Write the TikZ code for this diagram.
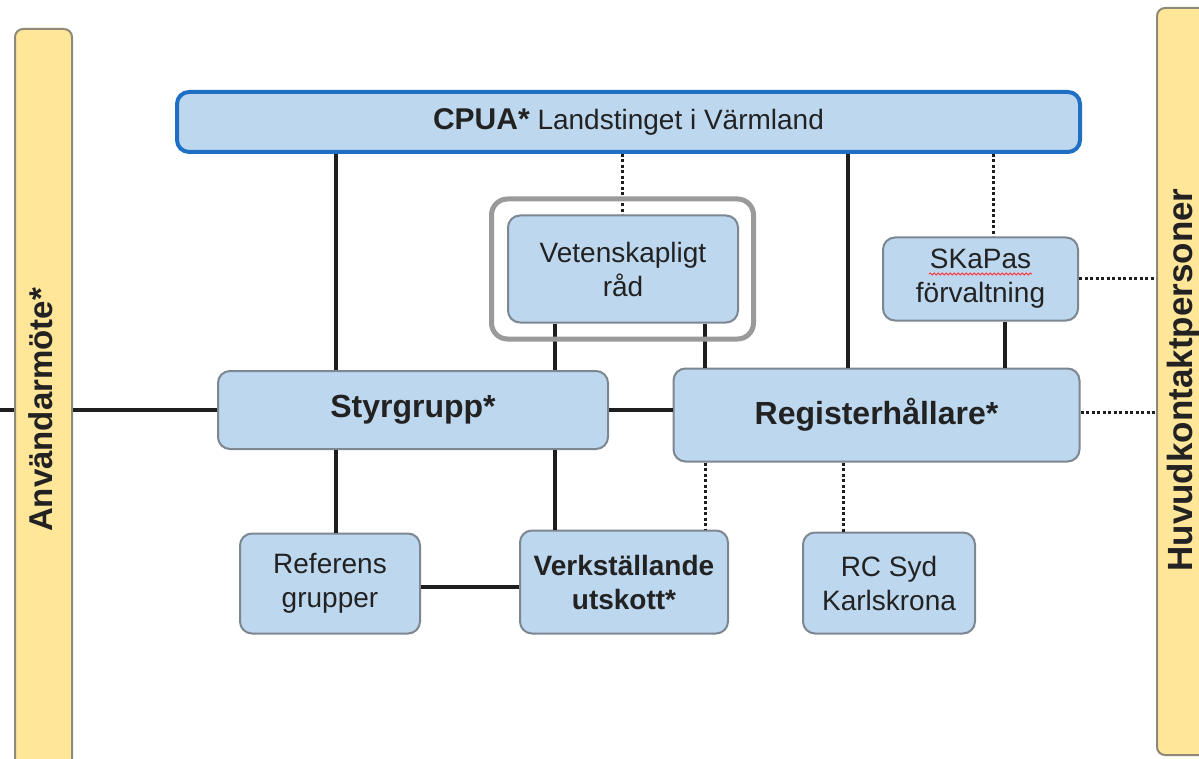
\documentclass[tikz,border=0pt]{standalone}
\usepackage{fontspec}
\setmainfont{Liberation Sans}
\usetikzlibrary{decorations.pathmorphing}
\definecolor{boxfill}{HTML}{BDD7EE}
\definecolor{boxdraw}{HTML}{7D8791}
\definecolor{barfill}{HTML}{FFE699}
\definecolor{bardraw}{HTML}{8E8A78}
\definecolor{cpuadraw}{HTML}{1F6FC5}
\definecolor{txt}{HTML}{222222}
\definecolor{hlgray}{HTML}{9A9A9A}
\definecolor{linec}{HTML}{1E1E1E}
\begin{document}
\begin{tikzpicture}[x=1pt,y=-1pt,
  box/.style={draw=boxdraw, line width=2pt, fill=boxfill, rounded corners=12pt,
    align=center, text=txt, inner sep=0pt, font=\fontsize{28}{34}\selectfont},
  bar/.style={draw=bardraw, line width=2pt, fill=barfill, rounded corners=8pt, inner sep=0pt},
  bartext/.style={rotate=90, text=txt, font=\bfseries\fontsize{33}{36}\selectfont},
  conn/.style={line width=3.5pt, draw=linec},
  dotc/.style={line width=3pt, draw=linec, dash pattern=on 3pt off 2.5pt},
]
\clip (0,0) rectangle (1199,759);
\fill[white] (0,0) rectangle (1199,759);

% coordinates for connector positions
\coordinate (xa) at (336,0);
\coordinate (xb) at (622,0);
\coordinate (xc) at (848,0);
\coordinate (xd) at (993,0);
\coordinate (xe) at (555,0);
\coordinate (xf) at (705,0);
\coordinate (xg) at (1005,0);
\coordinate (xh) at (843,0);
\coordinate (lfree) at (0,410);

% side bars
\node[bar, minimum width=57pt, minimum height=770pt] (abar) at (43.5,414) {};
\node[bartext] (atext) at (41,410) {Användarmöte*};
\node[bar, minimum width=56pt, minimum height=747pt] (hbar) at (1185,381.5) {};
\node[bartext, font=\bfseries\fontsize{35}{38}\selectfont] (htext) at (1183,380) {Huvudkontaktpersoner};

% boxes
\node[box, draw=cpuadraw, line width=4pt, minimum width=903pt, minimum height=60pt] (cpua) at (628.5,122)
  {{\fontsize{30}{34}\selectfont\bfseries CPUA*} Landstinget i Värmland};
\node[box, minimum width=230pt, minimum height=107pt] (vet) at (623,269) {Vetenskapligt\\råd};
\node[box, minimum width=195pt, minimum height=83pt] (ska) at (980.5,279) {SKaPas\\förvaltning};
\node[box, font=\bfseries\fontsize{32}{36}\selectfont, minimum width=390pt, minimum height=78pt] (styr) at (413,410) {Styrgrupp*};
\node[box, font=\bfseries\fontsize{32}{36}\selectfont, minimum width=406pt, minimum height=93pt] (reg) at (876.5,415) {Registerhållare*};
\node[box, minimum width=180pt, minimum height=100pt] (ref) at (330,583.5) {Referens\\grupper};
\node[box, font=\bfseries\fontsize{28}{34}\selectfont, minimum width=208pt, minimum height=103pt] (verk) at (624,582) {Verkställande\\utskott*};
\node[box, minimum width=172pt, minimum height=101pt] (rc) at (889,583) {RC Syd\\Karlskrona};

% spell-check squiggle under SKaPas
\coordinate (sq1) at (929,274);
\coordinate (sq2) at (1032,274);
\draw[red!80!white, line width=1pt, decorate, decoration={snake, amplitude=0.9pt, segment length=4pt}] (sq1) -- (sq2);

% connectors from CPUA
\draw[conn] (cpua.south -| xa) -- (styr.north -| xa);
\draw[dotc] (cpua.south -| xb) -- (vet.north -| xb);
\draw[conn] (cpua.south -| xc) -- (reg.north -| xc);
\draw[dotc] (cpua.south -| xd) -- (ska.north -| xd);

% from Vetenskapligt rad
\draw[conn] (vet.south -| xe) -- (styr.north -| xe);
\draw[conn] (vet.south -| xf) -- (reg.north -| xf);

% SKaPas
\draw[conn] (ska.south -| xg) -- (reg.north -| xg);
\draw[dotc] (ska.east) -- (hbar.west |- ska.east);

% horizontal links
\draw[conn] (lfree) -- (abar.west |- lfree);
\draw[conn] (abar.east |- styr.west) -- (styr.west);
\draw[conn] (styr.east) -- (reg.west |- styr.east);
\draw[dotc] (reg.east |- 0,412) -- (hbar.west |- 0,412);

% below Styrgrupp
\draw[conn] (styr.south -| xa) -- (ref.north -| xa);
\draw[conn] (styr.south -| xe) -- (verk.north -| xe);
\draw[conn] (ref.east |- 0,587) -- (verk.west |- 0,587);

% below Registerhallare
\draw[dotc] (reg.south -| xf) -- (verk.north -| xf);
\draw[dotc] (reg.south -| xh) -- (rc.north -| xh);

% highlight frame around Vetenskapligt rad
\node[draw=hlgray, line width=5pt, rounded corners=16pt, minimum width=262pt, minimum height=140pt, inner sep=0pt] (hl) at (622.5,269) {};
\end{tikzpicture}
\end{document}
